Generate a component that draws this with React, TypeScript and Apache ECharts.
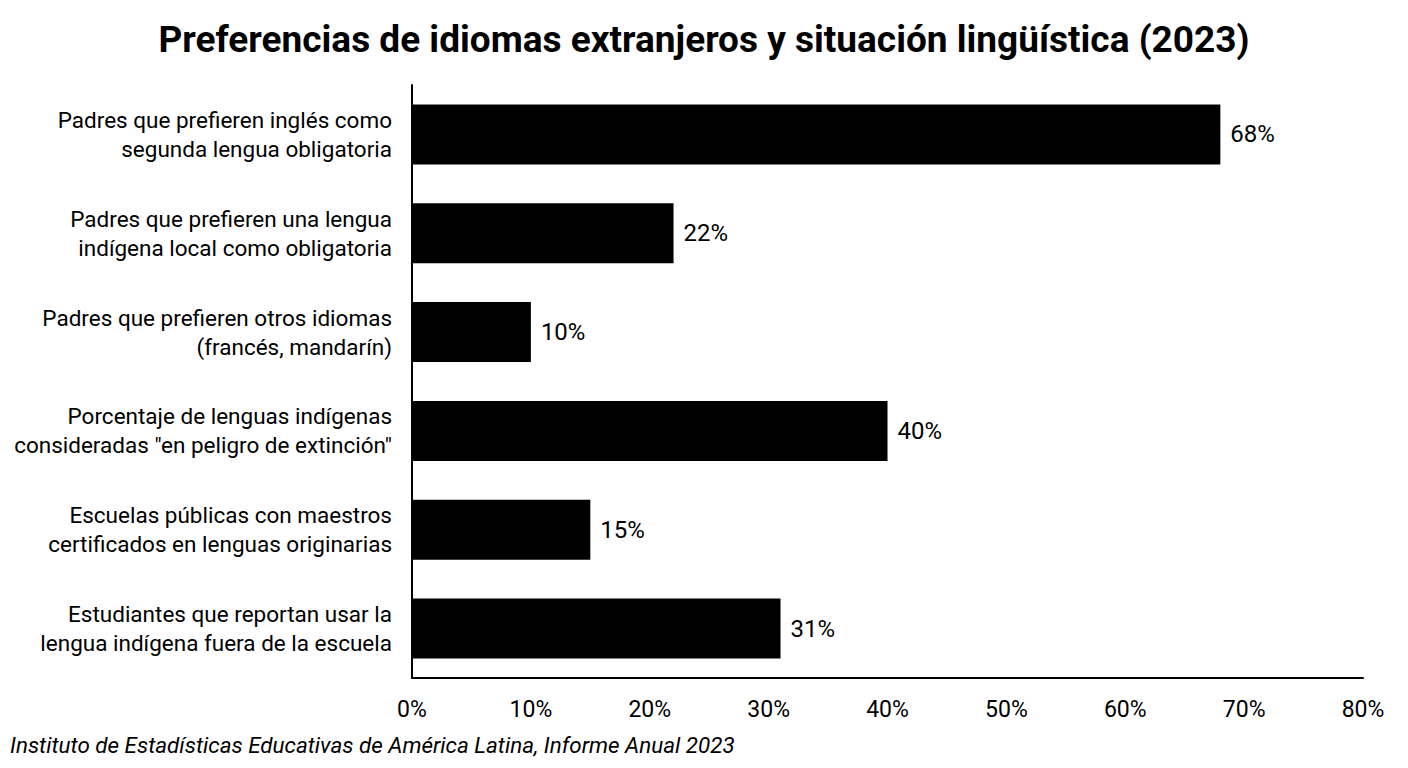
import React, { useEffect, useRef } from "react";
import * as echarts from "echarts";

const titleText = "Preferencias de idiomas extranjeros y situación lingüística (2023)";
const sourceText = "Instituto de Estadísticas Educativas de América Latina, Informe Anual 2023";
const categories = [
  "Padres que prefieren inglés como\nsegunda lengua obligatoria",
  "Padres que prefieren una lengua\nindígena local como obligatoria",
  "Padres que prefieren otros idiomas\n(francés, mandarín)",
  "Porcentaje de lenguas indígenas\nconsideradas \"en peligro de extinción\"",
  "Escuelas públicas con maestros\ncertificados en lenguas originarias",
  "Estudiantes que reportan usar la\nlengua indígena fuera de la escuela",
];
const values = [68, 22, 10, 40, 15, 31];

export default function App() {
  const ref = useRef<HTMLDivElement>(null);
  useEffect(() => {
    const chart = echarts.init(ref.current!, null, { renderer: "svg" });
    chart.setOption({
      animation: false,
      backgroundColor: "#ffffff",
      textStyle: { fontFamily: "Roboto" },
      title: {
        text: titleText,
        left: "center",
        top: 16,
        textStyle: { fontFamily: "Roboto", fontWeight: "bold", fontSize: 37, color: "#000" },
      },
      graphic: [
        {
          type: "text",
          left: 10,
          top: 734,
          style: {
            text: sourceText,
            fontFamily: "Roboto",
            fontStyle: "italic",
            fontSize: 22.4,
            fill: "#000",
          },
        },
      ],
      grid: { left: 412, right: 45, top: 85, bottom: 90, containLabel: false },
      xAxis: {
        type: "value",
        min: 0,
        max: 80,
        interval: 10,
        axisLine: { show: true, lineStyle: { color: "#000", width: 2 } },
        axisTick: { show: false },
        splitLine: { show: false },
        axisLabel: { formatter: "{value}%", fontSize: 23, color: "#000", margin: 20 },
      },
      yAxis: {
        type: "category",
        data: categories,
        inverse: true,
        axisLine: { show: true, lineStyle: { color: "#000", width: 2 } },
        axisTick: { show: false },
        axisLabel: { fontSize: 22.5, color: "#000", lineHeight: 29, margin: 20, align: "right" },
      },
      series: [
        {
          type: "bar",
          data: values,
          barWidth: 60,
          itemStyle: { color: "#000" },
          label: {
            show: true,
            position: "right",
            distance: 10,
            formatter: "{c}%",
            fontSize: 24,
            color: "#000",
          },
        },
      ],
    });
    return () => chart.dispose();
  }, []);
  return <div ref={ref} style={{ width: 1408, height: 768, position: "absolute", left: 0, top: 0 }} />;
}
